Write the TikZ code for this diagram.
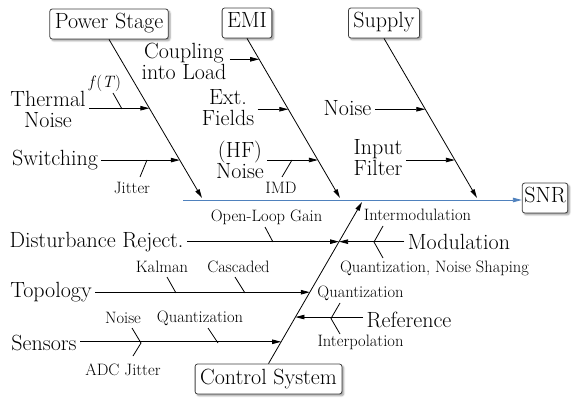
\documentclass[tikz,border=0pt]{standalone}
\usetikzlibrary{arrows.meta,calc,shadows.blur}
\definecolor{spineblue}{RGB}{79,129,189}
\tikzset{
  big/.style={font=\fontsize{22}{21}\selectfont, align=center},
  small/.style={font=\fontsize{16.5}{18}\selectfont, inner sep=1pt},
  cause/.style={big, draw=black!75, fill=white, rounded corners=2.5pt, line width=0.8pt,
    text height=15pt, text depth=5pt, inner ysep=5pt, inner xsep=5pt,
    blur shadow={shadow blur steps=6, shadow xshift=1.8pt, shadow yshift=-1.8pt, shadow opacity=40}},
  arr/.style={-{Triangle[length=9pt,width=4.5pt]}, line width=0.8pt},
  tick/.style={line width=0.8pt},
}
\begin{document}
\begin{tikzpicture}[x=1pt,y=-1pt]
\useasboundingbox (0,0) rectangle (573,398);

% category boxes and effect
\node[cause] (ps) at (109,24) {Power Stage};
\node[cause] (emi) at (247,23) {EMI};
\node[cause] (sup) at (384,23) {Supply};
\node[cause] (ctl) at (268.5,379) {Control System};
\node[cause, inner xsep=2pt] (snr) at (545,198) {SNR};

% bone tips on the spine
\coordinate (psTip) at (202,198);
\coordinate (emiTip) at (340,198);
\coordinate (supTip) at (477,198);
\coordinate (ctlTip) at (362,202);
\coordinate (spineStart) at (183,200);

% spine
\draw[-{Triangle[length=9pt,width=4.5pt]}, spineblue, line width=0.8pt]
  (spineStart) -- (snr.west |- spineStart);

% main bones
\draw[arr] (ps.south) -- (psTip)
  coordinate[pos=0.434] (psA) coordinate[pos=0.761] (psB);
\draw[arr] (emi.south) -- (emiTip)
  coordinate[pos=0.131] (emiA) coordinate[pos=0.444] (emiB) coordinate[pos=0.762] (emiC);
\draw[arr] (sup.south) -- (supTip)
  coordinate[pos=0.444] (supA) coordinate[pos=0.762] (supB);
\draw[arr] (ctl.north) -- (ctlTip)
  coordinate[pos=0.7546] (ctlA) coordinate[pos=0.4417] (ctlB)
  coordinate[pos=0.288] (ctlC) coordinate[pos=0.135] (ctlD);

% Power Stage
\node[big] (thermal) at (48,109) {Thermal\\Noise};
\node[big] (switching) at (55,160) {Switching};
\draw[arr] (thermal.east |- psA) -- (psA);
\draw[arr] (switching.east |- psB) -- (psB);
\node[small] (fT) at (105,83) {\textit{f}(\textit{T})};
\coordinate (fT1) at (113,93); \coordinate (fT2) at (122,109);
\draw[tick] (fT1) -- (fT2);
\node[small] (jitter) at (132,188) {Jitter};
\coordinate (jt1) at (147,160); \coordinate (jt2) at (140,177);
\draw[tick] (jt1) -- (jt2);

% EMI
\node[big] (coupling) at (184,61) {Coupling\\into Load};
\node[big] (ext) at (228,108) {Ext.\\Fields};
\node[big] (hf) at (240,160) {(HF)\\Noise};
\draw[arr] (coupling.east |- emiA) -- (emiA);
\draw[arr] (ext.east |- emiB) -- (emiB);
\draw[arr] (hf.east |- emiC) -- (emiC);
\node[small] (imd) at (281,188) {IMD};
\coordinate (imd1) at (292,160); \coordinate (imd2) at (282,177);
\draw[tick] (imd1) -- (imd2);

% Supply
\node[big] (supnoise) at (347.5,108.5) {Noise};
\node[big] (input) at (378,158) {Input\\Filter};
\draw[arr] (supnoise.east |- supA) -- (supA);
\draw[arr] (input.east |- supB) -- (supB);

% Control System, left side
\node[big] (dist) at (96.5,242) {Disturbance Reject.};
\node[big] (topo) at (51,292) {Topology};
\node[big] (sens) at (44,342.5) {Sensors};
\draw[arr] (dist.east |- ctlA) -- (ctlA);
\draw[arr] (topo.east |- ctlB) -- (ctlB);
\draw[arr] (sens.east |- ctlD) -- (ctlD);

\node[small] (olg) at (266.5,217) {Open-Loop Gain};
\coordinate (olg1) at (265,227); \coordinate (olg2) at (273,242);
\draw[tick] (olg1) -- (olg2);

\node[small] (kalman) at (162,267) {Kalman};
\coordinate (ka1) at (167,277); \coordinate (ka2) at (176,293);
\draw[tick] (ka1) -- (ka2);
\node[small] (casc) at (238.5,267) {Cascaded};
\coordinate (ca1) at (235,277); \coordinate (ca2) at (245,293);
\draw[tick] (ca1) -- (ca2);

\node[small] (snoise) at (123,318) {Noise};
\node[small] (adc) at (123,370) {ADC Jitter};
\coordinate (sn1) at (132,328); \coordinate (snV) at (141,343); \coordinate (sn2) at (133,356);
\draw[tick] (sn1) -- (snV) -- (sn2);
\node[small] (squant) at (200,318) {Quantization};
\coordinate (sq1) at (208,328); \coordinate (sq2) at (218,343);
\draw[tick] (sq1) -- (sq2);

% Control System, right side
\node[big] (modul) at (459,242) {Modulation};
\node[big] (ref) at (409,319.5) {Reference};
\draw[arr] (modul.west |- ctlA) -- (ctlA);
\draw[arr] (ref.west |- ctlC) -- (ctlC);

\node[small] (intermod) at (417.5,215) {Intermodulation};
\node[small] (qns) at (434.5,268) {Quantization, Noise Shaping};
\coordinate (md1) at (383,226); \coordinate (mdV) at (374,242); \coordinate (md2) at (383,258);
\draw[tick] (md1) -- (mdV) -- (md2);

\node[small] (rquant) at (360.5,293) {Quantization};
\node[small] (interp) at (360.5,342) {Interpolation};
\coordinate (rf1) at (340,303); \coordinate (rfV) at (331,318.5); \coordinate (rf2) at (340,334);
\draw[tick] (rf1) -- (rfV) -- (rf2);
\end{tikzpicture}
\end{document}
